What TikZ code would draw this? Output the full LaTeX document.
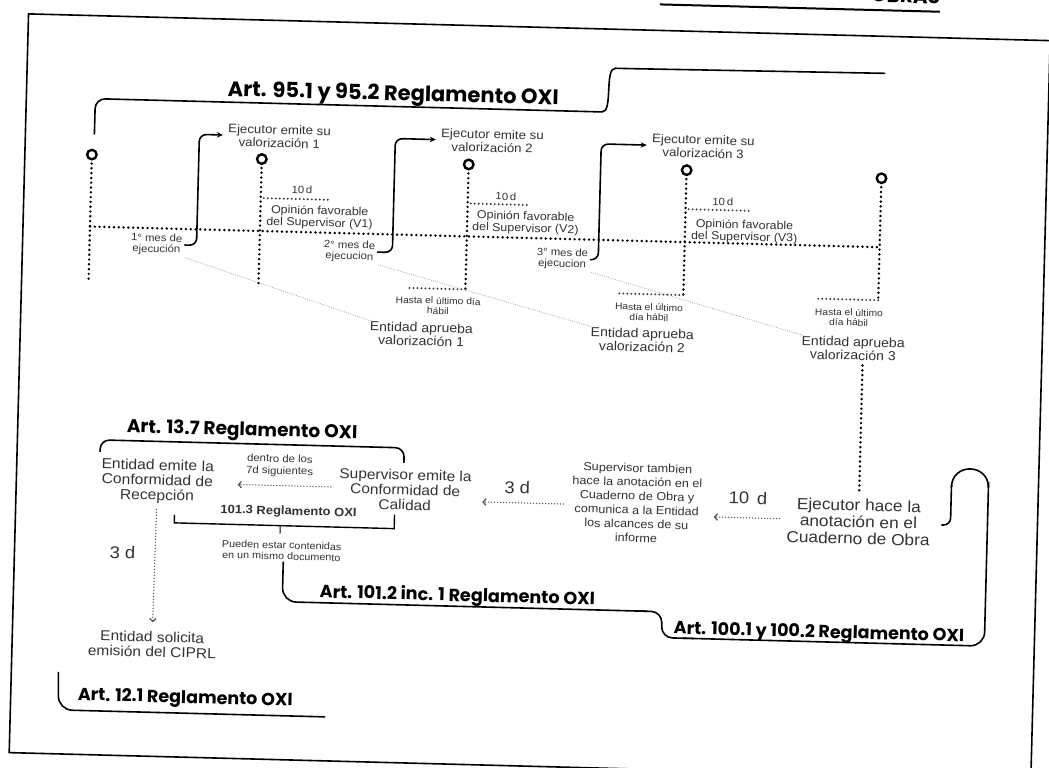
\documentclass[tikz,border=0pt]{standalone}
\usepackage{fontspec}
\setmainfont{Liberation Sans}[FakeStretch=1.08]
\newfontfamily\artfont{Poppins}
\usetikzlibrary{arrows.meta}
\definecolor{txt}{HTML}{333333}
\newcommand\fsz[2]{\fontsize{#1}{#2}\selectfont}
\begin{document}
\begin{tikzpicture}[x=1pt,y=-1pt,
  lab/.style={text=txt,align=center,inner sep=0pt},
  ring/.style={circle,draw=black,fill=white,line width=2.4pt,minimum size=9.5pt,inner sep=0pt},
  dotl/.style={line width=2.7pt,dash pattern=on 0pt off 4.8pt,line cap=round},
  dots/.style={draw=black!75,line width=2.2pt,dash pattern=on 0pt off 4pt,line cap=round},
  faint/.style={draw=black!35,line width=0.7pt,dash pattern=on 1pt off 1.3pt},
  brk/.style={line width=1.6pt,rounded corners=7pt,-{Stealth[length=6pt,width=5.5pt]}},
  darr/.style={draw=black!65,line width=1.5pt,dash pattern=on 0pt off 3pt,line cap=round,
    -{Straight Barb[length=3pt,width=6.5pt,line width=1.3pt]}},
  hd/.style={inner sep=0pt,anchor=base west,text=black},
  hline/.style={line width=1.6pt,rounded corners=12pt}]
\useasboundingbox (0,0) rectangle (1049,768);
\clip (0,0) rectangle (1049,768);
\fill[white] (0,0) rectangle (1049,768);
\begin{scope}[rotate around={-1.5:(525,384)},transform shape]
% frame and cut title
\draw[line width=1.6pt] (19,27) rectangle (1041,766);
\node[hd,anchor=base east,font=\artfont\bfseries\fsz{20}{22}] (obras) at (930,-7) {OBRAS};
\draw[line width=2pt] (650,1) -- (obras.base east |- 0,1);

% ---------- top bracket
\node[hd,font=\artfont\bfseries\fsz{21}{23}] (h95) at (220,104) {Art. 95.1 y 95.2 Reglamento OXI};
\draw[line width=1.6pt,rounded corners=10pt] (88,146) -- (88,110) -- (585,110)
   .. controls (606,110) and (596,66) .. (617,66) -- (877,64);

% ---------- timeline
\coordinate (b1) at (86,292);
\coordinate (b2) at (256,292);
\coordinate (b3) at (463,291);
\coordinate (b4) at (681,291);
\coordinate (b5) at (876,291);
\coordinate (m1) at (86,238);
\coordinate (m5) at (876,238);
\draw[dotl] (m1) -- (m5);
\node[ring] (c1) at (86,166) {};
\node[ring] (c2) at (256,166) {};
\node[ring] (c3) at (463,166) {};
\node[ring] (c4) at (681,166) {};
\node[ring] (c5) at (876,169) {};
\foreach \i in {1,...,5}{\draw[dotl] ([yshift=-3pt]c\i.south) -- (b\i);}
% 10 d segments
\draw[dots] (259,205) -- (325,205);
\draw[dots] (466,205) -- (526,205);
\draw[dots] (684,205) -- (747,205);
% last working day segments
\draw[dots] (b3) -- (404,291);
\draw[dots] (b4) -- (615,291);
\draw[dots] (b5) -- (813,291);

\node[lab,font=\fsz{10.5}{11}] (td1) at (297,196) {10\,d};
\node[lab,font=\fsz{10.5}{11}] (td2) at (501,197) {10\,d};
\node[lab,font=\fsz{10.5}{11}] (td3) at (718,197) {10\,d};

\node[lab,font=\fsz{11.5}{12},anchor=west] (op1) at (262,223) {Opinión favorable\\del Supervisor (V1)};
\node[lab,font=\fsz{11.5}{12},anchor=west] (op2) at (468,223) {Opinión favorable\\del Supervisor (V2)};
\node[lab,font=\fsz{11.5}{12},anchor=west] (op3) at (687,226) {Opinión favorable\\del Supervisor (V3)};

\node[lab,font=\fsz{12.3}{13.3}] (ev1) at (273,143) {Ejecutor emite su\\valorización 1};
\node[lab,font=\fsz{12.3}{13.3}] (ev2) at (486,142) {Ejecutor emite su\\valorización 2};
\node[lab,font=\fsz{12.3}{13.3}] (ev3) at (697,142) {Ejecutor emite su\\valorización 3};

\node[lab,font=\fsz{10.5}{11}] (mes1) at (153,254) {1° mes de\\ejecución};
\node[lab,font=\fsz{10.5}{11}] (mes2) at (346,256) {2° mes de\\ejecucion};
\node[lab,font=\fsz{10.5}{11}] (mes3) at (559,258) {3° mes de\\ejecucion};

\coordinate (bx1) at (193,200);
\coordinate (bx2) at (389,200);
\coordinate (bx3) at (595,200);
\foreach \i in {1,2,3}{
  \draw[brk,shorten >=5pt] ([xshift=2pt]mes\i.east) -- (bx\i |- mes\i.east) -- (bx\i |- ev\i.west) -- (ev\i.west);}

\node[lab,font=\fsz{9.5}{10}] (ha1) at (436,308) {Hasta el último día\\hábil};
\node[lab,font=\fsz{9.5}{10}] (ha2) at (647,309) {Hasta el último\\día hábil};
\node[lab,font=\fsz{9.5}{10}] (ha3) at (847,309) {Hasta el último\\día hábil};

\node[lab,font=\fsz{13}{13.5}] (ea1) at (420,337) {Entidad aprueba\\valorización 1};
\node[lab,font=\fsz{13}{13.5}] (ea2) at (641,337) {Entidad aprueba\\valorización 2};
\node[lab,font=\fsz{13}{13.5}] (ea3) at (852,340) {Entidad aprueba\\valorización 3};

\foreach \i in {1,2,3}{\draw[faint] ([xshift=3pt,yshift=-2pt]mes\i.south east) -- ([xshift=2pt]ea\i.north west);}

% ---------- lower flow
\node[lab,font=\fsz{16}{16.7}] (ehace) at (862,513) {Ejecutor hace la\\anotación en el\\Cuaderno de Obra};
\draw[dotl,shorten <=5pt,shorten >=4pt] (ea3.south -| ehace.north) -- (ehace.north);

\node[lab,font=\fsz{17}{18}] (d10) at (751,492) {10\, d};
\node[lab,font=\fsz{11.7}{14}] (stamb) at (640,500) {Supervisor tambien\\hace la anotación en el\\Cuaderno de Obra y\\comunica a la Entidad\\los alcances de su\\informe};
\draw[darr,shorten <=7pt,shorten >=12pt] (ehace.west |- 0,512) -- (stamb.east |- 0,512);

\node[lab,font=\fsz{17}{18}] (d3a) at (520,488) {3 d};
\node[lab,font=\fsz{14.3}{15}] (semite) at (408,493) {Supervisor emite la\\Conformidad de\\Calidad};
\draw[darr,shorten <=8pt,shorten >=11pt] (stamb.west |- 0,503) -- (semite.east |- 0,503);

\node[lab,font=\fsz{10.5}{12}] (dentro) at (282,472) {dentro de los\\7d siguientes};
\node[lab,font=\fsz{14.5}{15}] (eemite) at (160,491) {Entidad emite la\\Conformidad de\\Recepción};
\draw[darr,shorten <=8pt,shorten >=24pt] (semite.west |- 0,492) -- (eemite.east |- 0,492);

\node[hd,font=\artfont\bfseries\fsz{18.5}{20}] (h137) at (128,443) {Art. 13.7 Reglamento OXI};
\draw[hline,rounded corners=9pt] (102,463) -- (102,451) -- (406,451) -- (406,466);

\node[lab,font=\bfseries\fsz{12}{13}] (h1013) at (292,518) {101.3 Reglamento OXI};
\draw[line width=1.4pt] (178,524) -- (178,532) -- (398,532) -- (398,518);
\coordinate (tk) at (284,532);
\node[lab,font=\fsz{10}{11}] (pueden) at (286,557) {Pueden estar contenidas\\en un mismo documento};
\draw[line width=1pt] (tk) -- (tk |- 0,540);

\node[hd,font=\artfont\bfseries\fsz{17.6}{20}] (h1012) at (325,603) {Art. 101.2 inc. 1 Reglamento OXI};
\node[hd,font=\artfont\bfseries\fsz{17.5}{20}] (h100) at (680,630) {Art. 100.1 y 100.2 Reglamento OXI};
\draw[line width=1.6pt,rounded corners=14pt] (288,568) -- (288,608) -- (652,608);
\draw[line width=1.6pt,rounded corners=11pt] (640,608) -- (668,608) -- (668,634) -- (700,634);
\draw[line width=1.6pt,rounded corners=14pt] (690,634) -- (991,634) -- (991,470);
\draw[line width=1.6pt] (991,476) .. controls (991,451) and (954,451) .. (954,476);
\draw[line width=1.6pt,rounded corners=7pt] (954,474) -- (954,514) -- (945,514);

\node[lab,font=\fsz{14.3}{15}] (esol) at (159,654) {Entidad solicita\\emisión del CIPRL};
\draw[darr,shorten <=6pt,shorten >=9pt] (eemite.south) -- (esol.north);
\node[lab,font=\fsz{17}{18}] (d3b) at (127,563) {3 d};

\node[hd,font=\artfont\bfseries\fsz{17.5}{20}] (h121) at (86,712) {Art. 12.1 Reglamento OXI};
\draw[hline,rounded corners=14pt] (66,684) -- (67,722) -- (334,722);
\end{scope}
\end{tikzpicture}
\end{document}
